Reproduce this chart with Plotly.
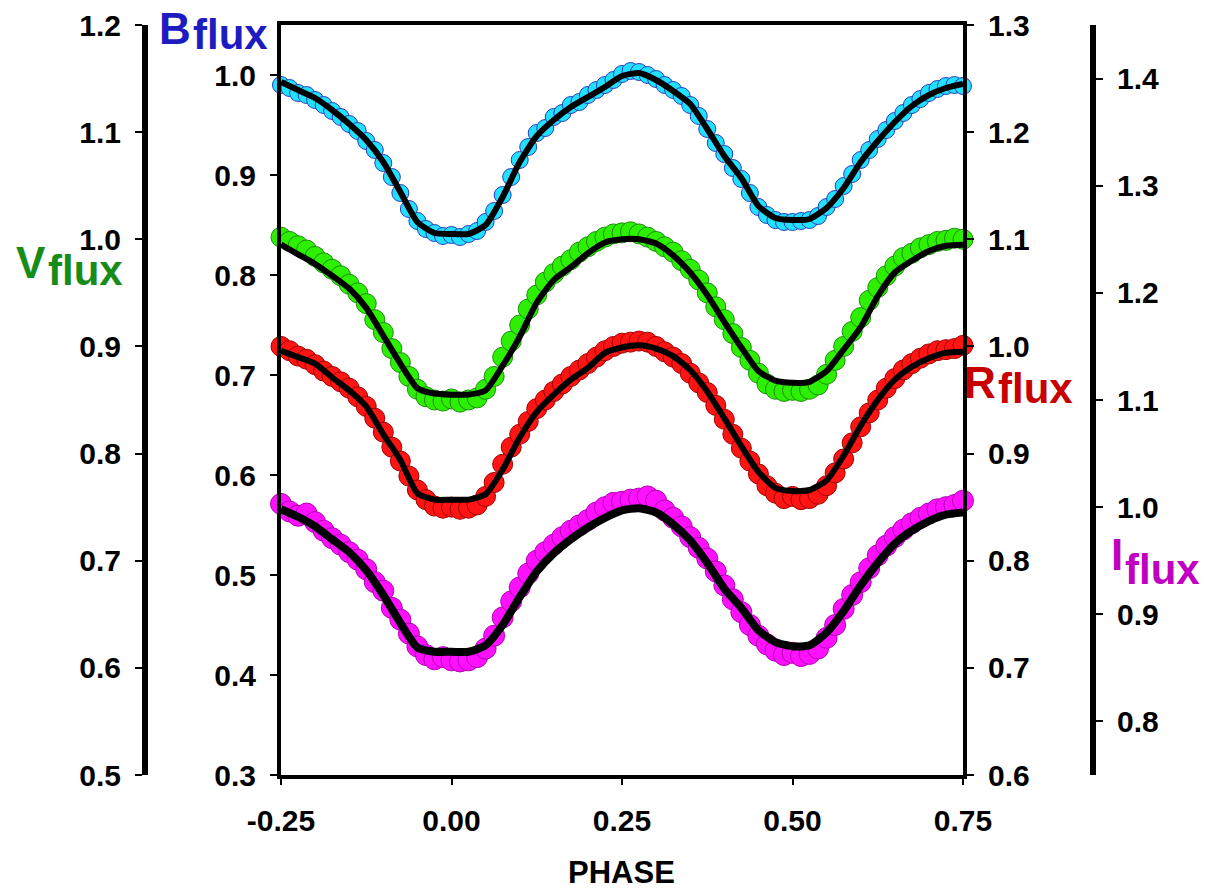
import plotly.graph_objects as go

# ---------------- data ----------------
fit_phase = [-0.25, -0.225, -0.2, -0.175, -0.15, -0.125, -0.1, -0.075, -0.05, -0.025,
             0.0, 0.025, 0.05, 0.075, 0.1, 0.125, 0.15, 0.175, 0.2, 0.225,
             0.25, 0.275, 0.3, 0.325, 0.35, 0.375, 0.4, 0.425, 0.45, 0.475,
             0.5, 0.525, 0.55, 0.575, 0.6, 0.625, 0.65, 0.675, 0.7, 0.725, 0.75]

b_fit = [0.993, 0.985, 0.977, 0.965, 0.951, 0.935, 0.913, 0.883, 0.853, 0.842,
         0.841, 0.841, 0.850, 0.878, 0.913, 0.939, 0.955, 0.968, 0.978, 0.988,
         0.999, 1.002, 0.995, 0.984, 0.971, 0.946, 0.919, 0.897, 0.869, 0.857,
         0.855, 0.856, 0.867, 0.887, 0.913, 0.934, 0.953, 0.969, 0.980, 0.987, 0.991]

v_fit = [0.995, 0.986, 0.977, 0.966, 0.954, 0.936, 0.910, 0.884, 0.861, 0.856,
         0.855, 0.855, 0.859, 0.882, 0.909, 0.941, 0.962, 0.974, 0.987, 0.997,
         1.000, 1.000, 0.996, 0.985, 0.969, 0.948, 0.923, 0.899, 0.877, 0.868,
         0.866, 0.867, 0.877, 0.897, 0.918, 0.947, 0.969, 0.980, 0.989, 0.994, 0.995]

r_fit = [0.996, 0.990, 0.984, 0.971, 0.959, 0.944, 0.918, 0.894, 0.863, 0.857,
         0.857, 0.857, 0.862, 0.885, 0.915, 0.939, 0.955, 0.969, 0.980, 0.994,
         0.999, 1.001, 0.998, 0.991, 0.978, 0.958, 0.933, 0.907, 0.883, 0.868,
         0.865, 0.866, 0.875, 0.898, 0.926, 0.950, 0.969, 0.981, 0.989, 0.994, 0.995]

i_fit = [0.998, 0.991, 0.982, 0.970, 0.958, 0.941, 0.918, 0.892, 0.869, 0.865,
         0.865, 0.865, 0.871, 0.890, 0.916, 0.940, 0.957, 0.970, 0.981, 0.990,
         0.997, 0.999, 0.995, 0.984, 0.969, 0.948, 0.924, 0.906, 0.885, 0.874,
         0.870, 0.871, 0.883, 0.903, 0.927, 0.948, 0.966, 0.978, 0.987, 0.993, 0.995]

obs_phase = [-0.25, -0.2375, -0.225, -0.2125, -0.2, -0.1875, -0.175, -0.1625, -0.15, -0.1375,
             -0.125, -0.1125, -0.1, -0.0875, -0.075, -0.0625, -0.05, -0.0375, -0.025, -0.0125,
             0.0, 0.0125, 0.025, 0.0375, 0.05, 0.0625, 0.075, 0.0875, 0.1, 0.1125,
             0.125, 0.1375, 0.15, 0.1625, 0.175, 0.1875, 0.2, 0.2125, 0.225, 0.2375,
             0.25, 0.2625, 0.275, 0.2875, 0.3, 0.3125, 0.325, 0.3375, 0.35, 0.3625,
             0.375, 0.3875, 0.4, 0.4125, 0.425, 0.4375, 0.45, 0.4625, 0.475, 0.4875,
             0.5, 0.5125, 0.525, 0.5375, 0.55, 0.5625, 0.575, 0.5875, 0.6, 0.6125,
             0.625, 0.6375, 0.65, 0.6625, 0.675, 0.6875, 0.7, 0.7125, 0.725, 0.7375, 0.75]

b_obs = [0.990, 0.987, 0.982, 0.980, 0.975, 0.970, 0.964, 0.958, 0.951, 0.944,
         0.934, 0.925, 0.912, 0.898, 0.882, 0.866, 0.854, 0.846, 0.842, 0.839,
         0.840, 0.838, 0.841, 0.844, 0.853, 0.864, 0.880, 0.898, 0.915, 0.928,
         0.942, 0.947, 0.958, 0.962, 0.970, 0.973, 0.980, 0.985, 0.990, 0.995,
         1.001, 1.004, 1.003, 1.000, 0.996, 0.990, 0.985, 0.979, 0.970, 0.959,
         0.946, 0.932, 0.921, 0.907, 0.896, 0.882, 0.868, 0.860, 0.855, 0.853,
         0.853, 0.854, 0.855, 0.859, 0.868, 0.876, 0.889, 0.901, 0.915, 0.925,
         0.936, 0.945, 0.954, 0.962, 0.970, 0.976, 0.982, 0.986, 0.989, 0.990, 0.989]

v_obs = [1.002, 0.998, 0.994, 0.990, 0.984, 0.978, 0.972, 0.966, 0.958, 0.950,
         0.940, 0.925, 0.913, 0.898, 0.885, 0.872, 0.860, 0.853, 0.850, 0.849,
         0.851, 0.848, 0.850, 0.852, 0.860, 0.872, 0.890, 0.905, 0.920, 0.935,
         0.948, 0.960, 0.968, 0.975, 0.981, 0.988, 0.993, 0.998, 1.002, 1.005,
         1.006, 1.007, 1.005, 1.002, 0.998, 0.993, 0.988, 0.980, 0.972, 0.962,
         0.950, 0.937, 0.925, 0.912, 0.899, 0.887, 0.875, 0.865, 0.860, 0.858,
         0.859, 0.858, 0.860, 0.864, 0.874, 0.887, 0.900, 0.914, 0.927, 0.943,
         0.955, 0.966, 0.975, 0.983, 0.987, 0.992, 0.995, 0.998, 0.999, 1.001, 1.000]

r_obs = [1.000, 0.996, 0.991, 0.988, 0.983, 0.977, 0.972, 0.967, 0.961, 0.953,
         0.944, 0.933, 0.920, 0.906, 0.893, 0.879, 0.866, 0.857, 0.851, 0.849,
         0.850, 0.848, 0.849, 0.852, 0.860, 0.873, 0.890, 0.906, 0.918, 0.930,
         0.942, 0.950, 0.958, 0.965, 0.972, 0.978, 0.984, 0.990, 0.996, 1.000,
         1.003, 1.004, 1.005, 1.004, 1.000, 0.995, 0.990, 0.984, 0.975, 0.966,
         0.957, 0.945, 0.932, 0.918, 0.905, 0.893, 0.881, 0.870, 0.863, 0.858,
         0.860, 0.857, 0.858, 0.862, 0.870, 0.882, 0.895, 0.910, 0.925, 0.938,
         0.950, 0.961, 0.970, 0.978, 0.984, 0.989, 0.993, 0.996, 0.997, 0.998, 1.001]

i_obs = [1.003, 0.996, 0.992, 0.994, 0.986, 0.978, 0.971, 0.965, 0.958, 0.951,
         0.942, 0.930, 0.922, 0.906, 0.895, 0.882, 0.870, 0.862, 0.858, 0.860,
         0.857, 0.856, 0.857, 0.860, 0.868, 0.880, 0.897, 0.912, 0.925, 0.938,
         0.950, 0.958, 0.965, 0.972, 0.978, 0.983, 0.988, 0.995, 1.000, 1.004,
         1.005, 1.007, 1.008, 1.010, 1.006, 0.997, 0.990, 0.982, 0.972, 0.962,
         0.952, 0.940, 0.927, 0.914, 0.902, 0.890, 0.880, 0.872, 0.866, 0.862,
         0.864, 0.861, 0.863, 0.868, 0.878, 0.890, 0.905, 0.918, 0.930, 0.943,
         0.955, 0.964, 0.972, 0.979, 0.985, 0.990, 0.994, 0.998, 1.000, 1.002, 1.006]

x_tickvals = [-0.25, 0.0, 0.25, 0.5, 0.75]
x_ticktext = ["-0.25", "0.00", "0.25", "0.50", "0.75"]
b_ticks = [0.3, 0.4, 0.5, 0.6, 0.7, 0.8, 0.9, 1.0]
v_ticks = [0.5, 0.6, 0.7, 0.8, 0.9, 1.0, 1.1, 1.2]
r_ticks = [0.6, 0.7, 0.8, 0.9, 1.0, 1.1, 1.2, 1.3]
i_ticks = [0.8, 0.9, 1.0, 1.1, 1.2, 1.3, 1.4]

# ---------------- figure ----------------
W, H = 1211, 892
PL, PR, PT, PB = 281, 963, 25, 775   # plot frame in pixels

FONT = "Liberation Sans, Arial, Helvetica, sans-serif"
tickfont = dict(family=FONT, size=30, color="black", weight="bold")

fig = go.Figure()

bands = [
    (b_obs, b_fit, "y", "#22e0ff", "#2a3fc0", 17, 6),
    (v_obs, v_fit, "y2", "#2cf000", "#1c8c10", 20, 6),
    (r_obs, r_fit, "y3", "#ff1414", "#a00000", 20, 6),
    (i_obs, i_fit, "y4", "#ff10ff", "#b000b0", 21, 8),
]
for obs, fit, yax, fill, edge, msize, lw in bands:
    fig.add_trace(go.Scatter(
        x=obs_phase, y=obs, yaxis=yax, mode="markers", cliponaxis=False,
        marker=dict(size=msize, color=fill, line=dict(color=edge, width=1)),
        hoverinfo="skip"))
    fig.add_trace(go.Scatter(
        x=fit_phase, y=fit, yaxis=yax, mode="lines", cliponaxis=False,
        line=dict(color="black", width=lw, shape="spline", smoothing=0.6),
        hoverinfo="skip"))

common_y = dict(showgrid=False, zeroline=False, showline=True, linecolor="black",
                ticks="outside", ticklen=7, tickwidth=2, tickcolor="black",
                tickfont=tickfont, tickformat=".1f", ticklabelstandoff=8,
                automargin=False)

fig.update_layout(
    width=W, height=H,
    margin=dict(l=0, r=0, t=PT, b=H - PB, autoexpand=False),
    paper_bgcolor="white", plot_bgcolor="white",
    showlegend=False,
    xaxis=dict(domain=[PL / W, PR / W], range=[-0.25, 0.75],
               showgrid=False, zeroline=False, showline=True, linecolor="black",
               linewidth=4, mirror=True, ticks="outside", ticklen=6, tickwidth=2,
               tickcolor="black", tickvals=x_tickvals, ticktext=x_ticktext,
               tickfont=tickfont, ticklabelstandoff=10, anchor="y", automargin=False),
    yaxis=dict(range=[0.3, 1.05], tickvals=b_ticks, anchor="x", side="left",
               linewidth=4, **common_y),
    yaxis2=dict(range=[0.5, 1.2], tickvals=v_ticks, overlaying="y", anchor="free",
                position=145 / W, side="left", linewidth=6, **common_y),
    yaxis3=dict(range=[0.6, 1.3], tickvals=r_ticks, overlaying="y", anchor="x",
                side="right", linewidth=4, **common_y),
    yaxis4=dict(range=[0.75, 1.45], tickvals=i_ticks, overlaying="y", anchor="free",
                position=1093 / W, side="right", linewidth=6, **common_y),
)


def px(xp, yp):
    return xp / W, (PB - yp) / (PB - PT)


def label(cap, cx, cy, fy, color):
    x1, y1 = px(cx, cy)
    x2, y2 = px(cx, fy)
    fig.add_annotation(x=x1, y=y1, xref="paper", yref="paper", text=cap,
                       showarrow=False, xanchor="right", yanchor="middle", borderpad=0,
                       font=dict(family=FONT, size=44, color=color, weight="bold"))
    fig.add_annotation(x=x2, y=y2, xref="paper", yref="paper", text="flux",
                       showarrow=False, xanchor="left", yanchor="middle", borderpad=0,
                       font=dict(family=FONT, size=42, color=color, weight="bold"))


label("B", 192, 28, 35, "#1c1cc0")
label("V", 47, 262, 270, "#188c18")
label("R", 997, 382, 389, "#c80000")
label("I", 1124, 554, 569, "#c000c0")

x0, y0 = px(621, 872)
fig.add_annotation(x=x0, y=y0, xref="paper", yref="paper", text="PHASE",
                   showarrow=False, xanchor="center", yanchor="middle", borderpad=0,
                   font=dict(family=FONT, size=31, color="black", weight="bold"))

fig.write_html("out.html")
